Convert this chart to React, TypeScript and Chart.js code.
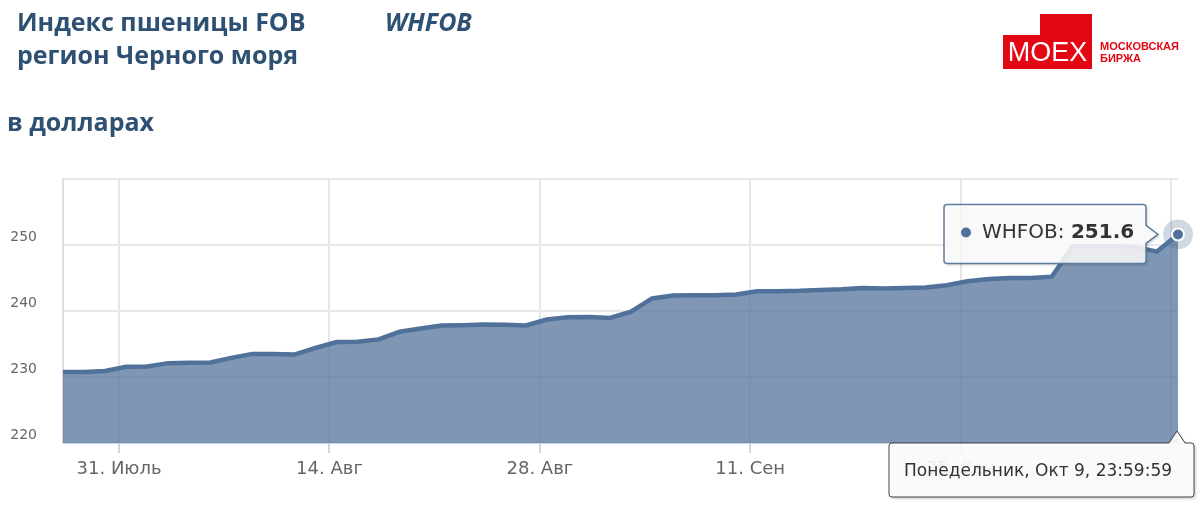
import React, { useEffect, useRef } from 'react';
import { Chart, registerables } from 'chart.js';

Chart.register(...registerables);

// Business-day points (Highstock ordinal axis: equal spacing per trading day)
const pointDates: string[] = [
  '2017-07-26', '2017-07-27', '2017-07-28',
  '2017-07-31', '2017-08-01', '2017-08-02', '2017-08-03', '2017-08-04',
  '2017-08-07', '2017-08-08', '2017-08-09', '2017-08-10', '2017-08-11',
  '2017-08-14', '2017-08-15', '2017-08-16', '2017-08-17', '2017-08-18',
  '2017-08-21', '2017-08-22', '2017-08-23', '2017-08-24', '2017-08-25',
  '2017-08-28', '2017-08-29', '2017-08-30', '2017-08-31', '2017-09-01',
  '2017-09-04', '2017-09-05', '2017-09-06', '2017-09-07', '2017-09-08',
  '2017-09-11', '2017-09-12', '2017-09-13', '2017-09-14', '2017-09-15',
  '2017-09-18', '2017-09-19', '2017-09-20', '2017-09-21', '2017-09-22',
  '2017-09-25', '2017-09-26', '2017-09-27', '2017-09-28', '2017-09-29',
  '2017-10-02', '2017-10-03', '2017-10-04', '2017-10-05', '2017-10-06',
  '2017-10-09',
];

const whfobValues: number[] = [
  230.75, 230.75, 230.9,
  231.55, 231.6, 232.1, 232.15, 232.2,
  232.9, 233.5, 233.5, 233.4, 234.4,
  235.3, 235.35, 235.7, 236.85, 237.35,
  237.8, 237.85, 237.95, 237.9, 237.8,
  238.7, 239.05, 239.1, 238.95, 239.9,
  241.9, 242.35, 242.4, 242.4, 242.5,
  243.0, 243.0, 243.05, 243.2, 243.3,
  243.5, 243.4, 243.5, 243.55, 243.9,
  244.5, 244.85, 245.0, 245.0, 245.2,
  249.8, 249.8, 249.8, 249.7, 249.0,
  251.6,
];

const xTickDates: string[] = ['2017-07-31', '2017-08-14', '2017-08-28', '2017-09-11', '2017-09-25', '2017-10-09'];
const xTickLabels: string[] = ['31. Июль', '14. Авг', '28. Авг', '11. Сен', '25. Сен', ''];
const yTickLabels: string[] = ['220', '230', '240', '250'];

const seriesName = 'WHFOB';
const tooltipDateText = 'Понедельник, Окт 9, 23:59:59';

const LINE = '#50719a';
const FILL = 'rgba(82,114,154,0.74)';

const hoverPlugin = {
  id: 'hoverOverlay',
  afterDraw(chart: any) {
    const ctx: CanvasRenderingContext2D = chart.ctx;
    const meta = chart.getDatasetMeta(0);
    const last = meta.data[meta.data.length - 1];
    const px = last.x;
    const py = last.y;
    const area = chart.chartArea;

    // halo + marker
    ctx.save();
    ctx.fillStyle = 'rgba(82,114,154,0.28)';
    ctx.beginPath();
    ctx.arc(px, py, 15, 0, Math.PI * 2);
    ctx.fill();
    ctx.fillStyle = LINE;
    ctx.strokeStyle = '#ffffff';
    ctx.lineWidth = 2;
    ctx.beginPath();
    ctx.arc(px, py, 6, 0, Math.PI * 2);
    ctx.fill();
    ctx.stroke();
    ctx.restore();

    // value tooltip
    const bx = px - 234;
    const by = py - 30;
    const bw = 202;
    const bh = 59;
    ctx.save();
    ctx.shadowColor = 'rgba(0,0,0,0.22)';
    ctx.shadowOffsetX = 1.5;
    ctx.shadowOffsetY = 1.5;
    ctx.shadowBlur = 3;
    ctx.beginPath();
    ctx.moveTo(bx + 3, by);
    ctx.lineTo(bx + bw - 3, by);
    ctx.quadraticCurveTo(bx + bw, by, bx + bw, by + 3);
    ctx.lineTo(bx + bw, py - 9);
    ctx.lineTo(px - 20, py);
    ctx.lineTo(bx + bw, py + 9);
    ctx.lineTo(bx + bw, by + bh - 3);
    ctx.quadraticCurveTo(bx + bw, by + bh, bx + bw - 3, by + bh);
    ctx.lineTo(bx + 3, by + bh);
    ctx.quadraticCurveTo(bx, by + bh, bx, by + bh - 3);
    ctx.lineTo(bx, by + 3);
    ctx.quadraticCurveTo(bx, by, bx + 3, by);
    ctx.closePath();
    ctx.fillStyle = 'rgba(255,255,255,0.86)';
    ctx.fill();
    ctx.shadowColor = 'transparent';
    ctx.strokeStyle = '#5d7ca0';
    ctx.lineWidth = 1.5;
    ctx.stroke();
    ctx.fillStyle = LINE;
    ctx.beginPath();
    ctx.arc(bx + 22, py - 2, 5, 0, Math.PI * 2);
    ctx.fill();
    ctx.fillStyle = '#333333';
    ctx.textBaseline = 'middle';
    ctx.textAlign = 'left';
    ctx.font = '20px "DejaVu Sans"';
    const label = seriesName + ': ';
    ctx.fillText(label, bx + 38, py - 2);
    const lw = ctx.measureText(label).width;
    ctx.font = 'bold 20px "DejaVu Sans"';
    ctx.fillText(whfobValues[whfobValues.length - 1].toFixed(1), bx + 38 + lw, py - 2);
    ctx.restore();

    // date tooltip under x axis
    const tx = px - 289;
    const ty = area.bottom;
    const tw = 305;
    const th = 54;
    ctx.save();
    ctx.shadowColor = 'rgba(0,0,0,0.25)';
    ctx.shadowOffsetX = 1.5;
    ctx.shadowOffsetY = 1.5;
    ctx.shadowBlur = 3;
    ctx.beginPath();
    ctx.moveTo(tx + 3, ty);
    ctx.lineTo(px - 9, ty);
    ctx.lineTo(px - 1, ty - 12);
    ctx.lineTo(px + 7, ty);
    ctx.lineTo(tx + tw - 3, ty);
    ctx.quadraticCurveTo(tx + tw, ty, tx + tw, ty + 3);
    ctx.lineTo(tx + tw, ty + th - 3);
    ctx.quadraticCurveTo(tx + tw, ty + th, tx + tw - 3, ty + th);
    ctx.lineTo(tx + 3, ty + th);
    ctx.quadraticCurveTo(tx, ty + th, tx, ty + th - 3);
    ctx.lineTo(tx, ty + 3);
    ctx.quadraticCurveTo(tx, ty, tx + 3, ty);
    ctx.closePath();
    ctx.fillStyle = 'rgba(255,255,255,0.9)';
    ctx.fill();
    ctx.shadowColor = 'transparent';
    ctx.strokeStyle = '#444444';
    ctx.lineWidth = 1;
    ctx.stroke();
    ctx.fillStyle = '#333333';
    ctx.font = '17px "DejaVu Sans"';
    ctx.textBaseline = 'middle';
    ctx.textAlign = 'left';
    ctx.fillText(tooltipDateText, tx + 15, ty + 29);
    ctx.restore();
  },
};

export default function App() {
  const canvasRef = useRef<HTMLCanvasElement | null>(null);

  useEffect(() => {
    if (!canvasRef.current) return;
    const xTickPositions = xTickDates.map((d) => pointDates.indexOf(d) - 1 / 3);
    const chart = new Chart(canvasRef.current, {
      type: 'line',
      data: {
        datasets: [
          {
            label: seriesName,
            data: whfobValues.map((v, i) => ({ x: i, y: v })),
            borderColor: LINE,
            backgroundColor: FILL,
            borderWidth: 4.5,
            fill: 'start',
            pointRadius: 0,
            tension: 0,
          },
        ],
      },
      options: {
        animation: false,
        responsive: false,
        devicePixelRatio: 1,
        events: [],
        layout: { padding: { top: 179, right: 22, left: 0, bottom: 0 } },
        plugins: { legend: { display: false }, tooltip: { enabled: false } },
        scales: {
          x: {
            type: 'linear',
            min: 0,
            max: pointDates.length - 1,
            afterFit: (s: any) => { s.height = 66; },
            afterBuildTicks: (s: any) => { s.ticks = xTickPositions.map((v) => ({ value: v })); },
            grid: { color: '#e6e6e6', lineWidth: 2, tickColor: '#ccd6eb', tickLength: 10, drawTicks: true },
            border: { color: '#ccd6eb', width: 2 },
            ticks: {
              autoSkip: false,
              maxRotation: 0,
              padding: 6,
              color: '#666666',
              font: { family: '"DejaVu Sans"', size: 18 },
              callback: (_v: any, i: number) => xTickLabels[i],
            },
          },
          y: {
            min: 220,
            max: 260,
            afterFit: (s: any) => { s.width = 63; },
            grid: { color: '#e8e8e8', lineWidth: 2, drawTicks: false },
            border: { color: '#dddddd', width: 2 },
            ticks: {
              stepSize: 10,
              padding: 26,
              labelOffset: -8,
              color: '#666666',
              font: { family: '"DejaVu Sans"', size: 14 },
              callback: (v: any) => (yTickLabels.includes(String(v)) ? String(v) : ''),
            },
          },
        },
      },
      plugins: [hoverPlugin],
    });
    return () => chart.destroy();
  }, []);

  const titleStyle: React.CSSProperties = {
    position: 'absolute',
    margin: 0,
    fontFamily: '"Open Sans", sans-serif',
    fontWeight: 700,
    fontSize: 25,
    lineHeight: '25px',
    color: '#2e5173',
    whiteSpace: 'nowrap',
  };

  return (
    <div style={{ position: 'fixed', left: 0, top: 0, width: 1200, height: 509, background: '#ffffff', overflow: 'hidden' }}>
      <canvas ref={canvasRef} width={1200} height={509} style={{ position: 'absolute', left: 0, top: 0, width: 1200, height: 509 }} />
      <div style={{ ...titleStyle, left: 17, top: 9 }}>Индекс пшеницы FOB</div>
      <div style={{ ...titleStyle, left: 17, top: 42 }}>регион Черного моря</div>
      <div style={{ ...titleStyle, left: 385, top: 9, fontStyle: 'italic' }}>WHFOB</div>
      <div style={{ ...titleStyle, left: 7, top: 109 }}>в долларах</div>
      {/* MOEX logo */}
      <div style={{ position: 'absolute', left: 1003, top: 35, width: 89, height: 34, background: '#e30613' }} />
      <div style={{ position: 'absolute', left: 1040, top: 14, width: 52, height: 22, background: '#e30613' }} />
      <div style={{ position: 'absolute', left: 1003, top: 36, width: 89, height: 32, color: '#ffffff', fontFamily: '"Liberation Sans", Arial, sans-serif', fontSize: 27, lineHeight: '32px', textAlign: 'center' }}>MOEX</div>
      <div style={{ position: 'absolute', left: 1100, top: 40, color: '#e30613', fontFamily: '"Liberation Sans", Arial, sans-serif', fontWeight: 700, fontSize: 11, lineHeight: '12px' }}>
        МОСКОВСКАЯ<br />БИРЖА
      </div>
    </div>
  );
}
